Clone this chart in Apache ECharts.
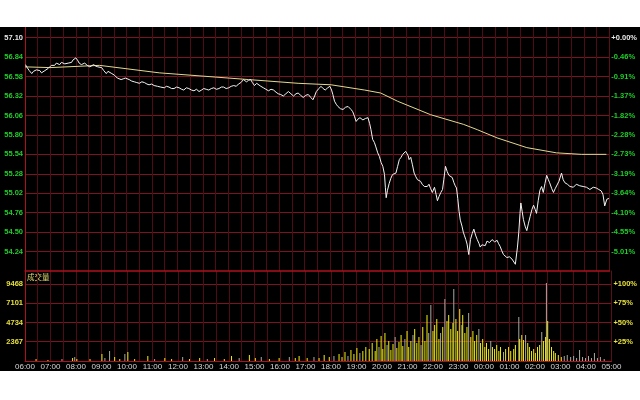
<!DOCTYPE html>
<html><head><meta charset="utf-8">
<script src="https://cdn.jsdelivr.net/npm/echarts@6/dist/echarts.min.js"></script>
<style>html,body{margin:0;padding:0;background:#fff;width:640px;height:400px;overflow:hidden}
#c{position:absolute;left:0;top:27px;width:640px;height:344px;background:#000}</style>
</head><body><div id="c"></div>
<script>
const timeLabels = ['06:00','07:00','08:00','09:00','10:00','11:00','12:00','13:00','14:00','15:00','16:00','17:00','18:00','19:00','20:00','21:00','22:00','23:00','00:00','01:00','02:00','03:00','04:00','05:00'];
const priceTicks = ['57.10','56.84','56.58','56.32','56.06','55.80','55.54','55.28','55.02','54.76','54.50','54.24'];
const pctTicks = ['+0.00%','-0.46%','-0.91%','-1.37%','-1.82%','-2.28%','-2.73%','-3.19%','-3.64%','-4.10%','-4.55%','-5.01%'];
const volTicks = ['2367','4734','7101','9468'];
const volPctTicks = ['+25%','+50%','+75%','+100%'];

// [minutes after 06:00, price]
const priceData = [[1,56.74],[4,56.71],[7,56.70],[10,56.66],[13,56.64],[16,56.62],[20,56.65],[23,56.64],[27,56.67],[31,56.65],[35,56.66],[39,56.63],[43,56.64],[47,56.66],[51,56.65],[55,56.69],[59,56.71],[62,56.73],[66,56.74],[70,56.73],[74,56.76],[78,56.74],[82,56.74],[86,56.77],[89,56.78],[94,56.75],[98,56.77],[102,56.76],[106,56.78],[110,56.77],[113,56.80],[117,56.82],[120,56.83],[124,56.80],[128,56.76],[133,56.74],[137,56.75],[141,56.76],[147,56.73],[153,56.71],[157,56.73],[162,56.74],[167,56.72],[172,56.71],[176,56.72],[181,56.70],[186,56.66],[192,56.62],[196,56.65],[199,56.66],[205,56.62],[211,56.60],[215,56.58],[218,56.56],[222,56.57],[227,56.54],[232,56.55],[237,56.56],[241,56.54],[246,56.54],[252,56.52],[258,56.51],[264,56.50],[270,56.49],[276,56.51],[282,56.50],[288,56.48],[293,56.47],[299,56.48],[305,56.46],[309,56.47],[313,56.45],[320,56.44],[329,56.43],[334,56.45],[340,56.44],[346,56.42],[352,56.42],[358,56.44],[364,56.43],[370,56.41],[375,56.40],[381,56.43],[387,56.42],[393,56.40],[399,56.39],[405,56.41],[411,56.38],[417,56.40],[422,56.42],[428,56.41],[434,56.40],[440,56.42],[446,56.43],[452,56.41],[458,56.42],[464,56.44],[469,56.44],[475,56.42],[481,56.43],[487,56.45],[493,56.46],[499,56.45],[504,56.48],[510,56.50],[516,56.54],[520,56.52],[523,56.51],[528,56.53],[533,56.54],[537,56.50],[542,56.46],[547,56.49],[551,56.48],[557,56.45],[563,56.43],[569,56.41],[575,56.39],[581,56.41],[587,56.40],[593,56.37],[598,56.35],[604,56.34],[610,56.32],[616,56.35],[622,56.38],[628,56.35],[634,56.32],[640,56.35],[645,56.36],[651,56.33],[657,56.30],[663,56.33],[669,56.34],[675,56.30],[680,56.27],[684,56.32],[688,56.38],[694,56.42],[699,56.45],[704,56.42],[709,56.40],[715,56.43],[720,56.45],[724,56.40],[727,56.34],[731,56.25],[735,56.21],[739,56.18],[745,56.15],[751,56.14],[757,56.17],[763,56.18],[767,56.16],[770,56.14],[774,56.11],[778,56.05],[782,55.98],[786,56.01],[791,56.03],[798,56.00],[804,56.02],[810,56.03],[814,55.95],[817,55.87],[821,55.74],[825,55.70],[828,55.65],[833,55.56],[837,55.51],[841,55.43],[845,55.38],[849,55.27],[851,55.10],[853,54.96],[856,55.06],[860,55.15],[864,55.22],[868,55.27],[872,55.25],[876,55.29],[880,55.38],[884,55.47],[888,55.50],[892,55.54],[896,55.56],[899,55.58],[903,55.58],[905,55.52],[907,55.47],[911,55.50],[915,55.40],[919,55.29],[923,55.24],[927,55.20],[931,55.22],[934,55.18],[938,55.14],[943,55.11],[947,55.13],[950,55.11],[954,55.14],[958,55.08],[962,55.03],[967,55.10],[971,55.00],[974,54.92],[978,54.98],[982,55.03],[986,55.07],[989,55.20],[993,55.38],[997,55.31],[1001,55.26],[1004,55.27],[1009,55.23],[1013,55.16],[1016,55.12],[1019,55.09],[1022,54.95],[1025,54.78],[1028,54.66],[1032,54.58],[1035,54.50],[1038,54.45],[1041,54.40],[1044,54.34],[1048,54.20],[1052,54.40],[1056,54.48],[1060,54.54],[1064,54.46],[1068,54.40],[1072,54.35],[1075,54.30],[1079,54.33],[1082,54.35],[1087,54.32],[1091,54.38],[1097,54.36],[1103,54.40],[1109,54.37],[1115,54.39],[1118,54.35],[1122,54.31],[1126,54.25],[1130,54.20],[1134,54.18],[1138,54.16],[1144,54.17],[1150,54.14],[1154,54.12],[1158,54.07],[1160,54.08],[1163,54.30],[1166,54.49],[1169,54.75],[1171,54.89],[1174,54.78],[1177,54.67],[1181,54.58],[1185,54.52],[1189,54.62],[1193,54.71],[1197,54.80],[1201,54.86],[1205,54.80],[1208,54.75],[1212,54.92],[1216,55.06],[1220,55.11],[1224,55.03],[1228,55.15],[1232,55.26],[1236,55.20],[1239,55.16],[1244,55.08],[1248,55.03],[1252,55.08],[1255,55.10],[1261,55.18],[1267,55.29],[1271,55.20],[1275,55.16],[1281,55.14],[1287,55.11],[1291,55.13],[1295,55.10],[1302,55.14],[1310,55.12],[1318,55.11],[1326,55.10],[1334,55.07],[1342,55.10],[1349,55.09],[1355,55.07],[1361,55.05],[1365,55.00],[1369,54.85],[1374,54.94],[1379,54.95]];

const avgData = [[0,56.71],[59,56.70],[176,56.73],[317,56.63],[411,56.59],[528,56.54],[645,56.49],[723,56.47],[802,56.40],[840,56.36],[880,56.25],[958,56.07],[1036,55.94],[1068,55.87],[1115,55.76],[1185,55.63],[1255,55.56],[1314,55.54],[1373,55.54]];

const volYellow = [[26,246],[54,123],[112,369],[122,246],[153,246],[181,861],[211,492],[223,246],[242,1107],[258,246],[289,615],[329,369],[345,246],[387,246],[411,369],[446,369],[469,246],[486,615],[528,738],[542,369],[575,246],[598,369],[636,369],[645,615],[664,369],[692,369],[704,738],[716,492],[739,861],[746,492],[753,1107],[767,1353],[774,861],[781,1599],[795,1230],[802,1722],[810,1476],[817,2214],[824,1230],[828,2706],[838,3075],[842,1476],[847,3444],[856,2460],[861,1353],[866,2091],[875,1599],[880,2337],[885,3198],[889,1845],[899,3690],[903,1722],[908,2460],[917,3936],[922,2214],[927,2952],[936,4182],[941,2460],[946,5658],[960,3690],[964,4428],[969,5166],[974,2706],[983,4182],[993,4920],[997,5658],[1002,3936],[1007,4674],[1014,5166],[1018,3690],[1023,6396],[1030,5658],[1035,3444],[1040,4182],[1049,2952],[1054,3690],[1058,2460],[1063,3198],[1072,2214],[1077,2706],[1082,1722],[1086,2214],[1091,1476],[1100,1722],[1105,1476],[1110,1968],[1115,1230],[1119,1722],[1131,1476],[1138,1722],[1143,1230],[1150,1476],[1154,1968],[1164,2706],[1169,3198],[1173,2583],[1183,2214],[1187,1722],[1192,1230],[1197,1476],[1201,984],[1206,1722],[1211,1968],[1220,2460],[1225,2952],[1230,4920],[1234,2706],[1239,1722],[1244,1230],[1248,984],[1255,738],[1262,492]];

const volGray = [[87,246],[117,492],[188,369],[199,1230],[235,861],[305,246],[371,492],[429,246],[504,369],[556,492],[622,492],[680,492],[727,615],[760,615],[788,984],[833,1722],[852,1968],[871,2952],[894,2706],[913,3198],[932,1968],[950,3444],[955,6888],[978,3444],[988,7626],[1009,8856],[1028,4428],[1044,5904],[1068,3936],[1096,2460],[1126,1107],[1162,5412],[1178,3198],[1216,3567],[1227,9594],[1269,615],[1276,738],[1284,492],[1291,615],[1298,369],[1305,1353],[1312,492],[1319,369],[1326,615],[1333,369],[1340,984],[1347,369],[1354,492],[1363,246]];

const PRICE_TOP = 57.10, PRICE_STEP = 0.26, PRICE_MIN = 53.98, PRICE_MAX = 57.243;
const VOL_STEP = 2367, VOL_MAX = 11066;
const T_MAX = 1380;

const FONT = 'Liberation Sans';
const green = '#1fcf2a', whiteLbl = '#e8e8e8', yellowLbl = '#e6e03a';
const hGrid = '#7a1422', vGrid = '#4e0c16', border = '#b0101c';

function priceIdx(v){const i=Math.round((PRICE_TOP-v)/PRICE_STEP);return (i>=0&&i<priceTicks.length&&Math.abs(PRICE_TOP-i*PRICE_STEP-v)<0.01)?i:-1;}
function volIdx(v){const i=Math.round(v/VOL_STEP);return (i>=1&&i<=volTicks.length&&Math.abs(i*VOL_STEP-v)<1)?i-1:-1;}

const chart = echarts.init(document.getElementById('c'), null, {renderer:'canvas'});
const lblBase = {fontFamily:FONT, fontSize:7.5, fontWeight:'bold'};
chart.setOption({
  backgroundColor:'#000',
  animation:false,
  grid:[{left:25,right:27,top:0,height:244},{left:25,right:27,top:244,height:90}],
  xAxis:[
    {type:'value',gridIndex:0,min:0,max:T_MAX,interval:30,axisLabel:{show:false},axisTick:{show:false},
     axisLine:{show:true,onZero:false,lineStyle:{color:border,width:1.5}},splitLine:{show:true,lineStyle:{color:vGrid,width:1}}},
    {type:'value',gridIndex:1,min:0,max:T_MAX,interval:30,axisTick:{show:false},
     axisLine:{show:true,onZero:false,lineStyle:{color:border,width:1}},splitLine:{show:true,lineStyle:{color:vGrid,width:1}},
     axisLabel:Object.assign({},lblBase,{fontWeight:'normal',color:'#d8d8d8',margin:2,fontSize:8,
       formatter:v=>(v%60===0?timeLabels[v/60]:'')})}
  ],
  yAxis:[
    {type:'value',gridIndex:0,position:'left',min:PRICE_MIN,max:PRICE_MAX,interval:PRICE_STEP,
     axisLine:{show:true,lineStyle:{color:border,width:1}},axisTick:{show:false},
     splitLine:{show:true,showMaxLine:false,showMinLine:false,lineStyle:{color:hGrid,width:1}},
     axisLabel:Object.assign({},lblBase,{margin:2,
       formatter:v=>{const i=priceIdx(v);return i<0?'':priceTicks[i];},
       color:(v)=>priceIdx(+v)===0?whiteLbl:green})},
    {type:'value',gridIndex:0,position:'right',min:PRICE_MIN,max:PRICE_MAX,interval:PRICE_STEP,
     axisLine:{show:true,lineStyle:{color:'#5a1018',width:1}},axisTick:{show:false},splitLine:{show:false},
     axisLabel:Object.assign({},lblBase,{margin:2,
       formatter:v=>{const i=priceIdx(v);return i<0?'':pctTicks[i];},
       color:(v)=>priceIdx(+v)===0?whiteLbl:green})},
    {type:'value',gridIndex:1,position:'left',min:0,max:VOL_MAX,interval:VOL_STEP,
     axisLine:{show:true,lineStyle:{color:border,width:1}},axisTick:{show:false},
     splitLine:{show:true,showMaxLine:false,showMinLine:false,lineStyle:{color:hGrid,width:1}},
     axisLabel:Object.assign({},lblBase,{margin:2,color:yellowLbl,
       formatter:v=>{const i=volIdx(v);return i<0?'':volTicks[i];}})},
    {type:'value',gridIndex:1,position:'right',min:0,max:VOL_MAX,interval:VOL_STEP,
     axisLine:{show:true,lineStyle:{color:'#5a1018',width:1}},axisTick:{show:false},splitLine:{show:false},
     axisLabel:Object.assign({},lblBase,{margin:2,color:yellowLbl,
       formatter:v=>{const i=volIdx(v);return i<0?'':volPctTicks[i];}})}
  ],
  graphic:[{type:'text',left:27,top:246,style:{text:'成交量',fill:'#e0d870',font:'7.5px "Noto Sans CJK SC"'}}],
  series:[
    {type:'line',xAxisIndex:0,yAxisIndex:0,data:avgData,showSymbol:false,smooth:false,
     lineStyle:{color:'#e2d88e',width:1},z:3},
    {type:'line',xAxisIndex:0,yAxisIndex:0,data:priceData,showSymbol:false,
     lineStyle:{color:'#f4f4f4',width:1},z:4},
    {type:'bar',xAxisIndex:1,yAxisIndex:2,data:volGray,barWidth:1,barGap:'-100%',itemStyle:{color:'#a8a8a0'}},
    {type:'bar',xAxisIndex:1,yAxisIndex:2,data:volYellow,barWidth:1,barGap:'-100%',itemStyle:{color:'#f0ee10'}}
  ]
});
</script></body></html>
